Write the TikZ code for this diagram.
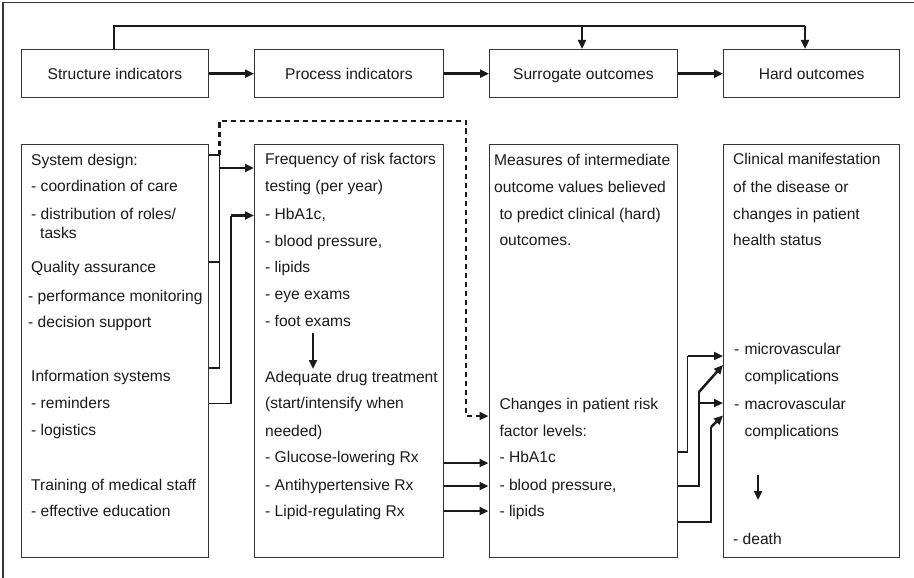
\documentclass[tikz,border=0pt]{standalone}
\usepackage{fontspec}
\setmainfont{Liberation Sans}
\usetikzlibrary{arrows.meta}
\definecolor{ink}{HTML}{1A1A1A}
\definecolor{edge}{HTML}{353535}
\tikzset{
  box/.style={draw=edge, line width=1.3pt, anchor=north west, inner sep=0pt, text=ink,
    font=\fontsize{15.6}{18}\selectfont, text height=11.2pt, text depth=0pt},
  txt/.style={anchor=base west, inner sep=0pt, text=ink, font=\fontsize{15.6}{18}\selectfont},
  thinline/.style={draw=ink, line width=1.25pt},
  arr/.style={draw=ink, line width=2.5pt, -{Triangle[length=9pt,width=8pt]}},
  darr/.style={draw=ink, line width=2.5pt, dash pattern=on 5.5pt off 3.5pt, -{Triangle[length=9pt,width=8pt]}},
  mline/.style={draw=ink, line width=2.5pt},
}
\begin{document}
\begin{tikzpicture}[x=1pt,y=-1pt]
\useasboundingbox (0,0) rectangle (914,578);
% outer frame (left and top)
\draw[draw=edge, line width=1.3pt] (3,578) -- (3,2.5) -- (914,2.5);

% top row
\node[box, minimum width=187.5pt, minimum height=48pt] (s) at (20.5,49) {Structure indicators};
\node[box, minimum width=188.5pt, minimum height=48pt] (p) at (254,49) {Process indicators};
\node[box, minimum width=187.5pt, minimum height=48pt] (su) at (489,49) {Surrogate outcomes};
\node[box, minimum width=176pt, minimum height=48pt] (h) at (723,49) {Hard outcomes};

\draw[arr] (s.east) -- (p.west);
\draw[arr] (p.east) -- (su.west);
\draw[arr] (su.east) -- (h.west);

\coordinate (tl) at (114,26);
\coordinate (tm) at (582,26);
\coordinate (tr) at (805,26);
\draw[mline] (s.north -| tl) -- (tl) -- (tm);
\draw[arr] (tm) -- (su.north -| tm);
\draw[draw=ink, line width=1.7pt] (tm) -- (tr);
\draw[arr] (tr) -- (h.north -| tr);

% bottom row boxes
\node[box, minimum width=187.5pt, minimum height=413pt] (b1) at (20.5,144) {};
\node[box, minimum width=188.5pt, minimum height=413pt] (b2) at (254,144) {};
\node[box, minimum width=188pt, minimum height=413pt] (b3) at (488.5,144) {};
\node[box, minimum width=176pt, minimum height=413pt] (b4) at (723,144) {};

% left box text
\node[txt] (l1) at (31,165.5) {System design:};
\node[txt] (l2) at (31,191.7) {- coordination of care};
\node[txt] (l3) at (31,219.5) {- distribution of roles/};
\node[txt] (l4) at (40,238.3) {tasks};
\node[txt] (l5) at (31,272.7) {Quality assurance};
\node[txt] (l6) at (28,301.7) {- performance monitoring};
\node[txt] (l7) at (28,327.3) {- decision support};
\node[txt] (l8) at (31,381.7) {Information systems};
\node[txt] (l9) at (31,408.3) {- reminders};
\node[txt] (l10) at (31,435.7) {- logistics};
\node[txt] (l11) at (31,490) {Training of medical staff};
\node[txt] (l12) at (31,516.7) {- effective education};

% process box text
\node[txt] (p1) at (265,164.3) {Frequency of risk factors};
\node[txt] (p2) at (265,191) {testing (per year)};
\node[txt] (p3) at (265,219.3) {- HbA1c,};
\node[txt] (p4) at (265,246) {- blood pressure,};
\node[txt] (p5) at (265,272.7) {- lipids};
\node[txt] (p6) at (265,299.3) {- eye exams};
\node[txt] (p7) at (265,326) {- foot exams};
\node[txt] (p8) at (265,382.7) {Adequate drug treatment};
\node[txt] (p9) at (265,408.3) {(start/intensify when};
\node[txt] (p10) at (265,436) {needed)};
\node[txt] (p11) at (265,462.7) {- Glucose-lowering Rx};
\node[txt] (p12) at (265,490) {- Antihypertensive Rx};
\node[txt] (p13) at (265,516.7) {- Lipid-regulating Rx};

% surrogate box text
\node[txt] (s1) at (494,165) {Measures of intermediate};
\node[txt] (s2) at (494,192.7) {outcome values believed};
\node[txt] (s3) at (499.3,219) {to predict clinical (hard)};
\node[txt] (s4) at (499.3,245.7) {outcomes.};
\node[txt] (s5) at (499.3,409) {Changes in patient risk};
\node[txt] (s6) at (499.3,436) {factor levels:};
\node[txt] (s7) at (499.3,462.7) {- HbA1c};
\node[txt] (s8) at (499.3,490) {- blood pressure,};
\node[txt] (s9) at (499.3,516.7) {- lipids};

% hard box text
\node[txt] (h1) at (733,164.3) {Clinical manifestation};
\node[txt] (h2) at (733,192.3) {of the disease or};
\node[txt] (h3) at (733,219) {changes in patient};
\node[txt] (h4) at (733,245.7) {health status};
\node[txt] (h5) at (734,354.3) {-};
\node[txt] (h6) at (744.3,354.3) {microvascular};
\node[txt] (h7) at (744.3,381.7) {complications};
\node[txt] (h8) at (734,409) {-};
\node[txt] (h9) at (744.3,409) {macrovascular};
\node[txt] (h10) at (744.3,436) {complications};
\node[txt] (h11) at (733,544) {- death};

% structure -> process bus
\coordinate (bx) at (219.5,155);
\coordinate (bb) at (219.5,368);
\draw[thinline] (b1.east |- bx) -- (bx) -- (bb) -- (b1.east |- bb);
\draw[thinline] (b1.east |- 0,262) -- (219.5,262);
\draw[arr] (219.5,168) -- (b2.west |- 0,168);
\coordinate (c1) at (231,403.5);
\coordinate (c2) at (231,215.5);
\draw[thinline] (b1.east |- c1) -- (c1) -- (c2);
\draw[arr] (c2) -- (b2.west |- c2);

% dashed path
\coordinate (d1) at (219.5,121);
\coordinate (d2) at (466,121);
\coordinate (d3) at (466,416);
\draw[darr] (bx) -- (d1) -- (d2) -- (d3) -- (b3.west |- d3);

% arrow within process box
\coordinate (pa) at (313,333);
\coordinate (pb) at (313,369);
\draw[arr] (pa) -- (pb);

% process -> surrogate
\draw[arr] (b2.east |- 0,463) -- (b3.west |- 0,463);
\draw[arr] (b2.east |- 0,486) -- (b3.west |- 0,486);
\draw[arr] (b2.east |- 0,511) -- (b3.west |- 0,511);

% surrogate -> hard
\coordinate (e1) at (687.5,452);
\coordinate (e1t) at (687.5,356);
\draw[thinline] (b3.east |- e1) -- (e1) -- (e1t);
\draw[arr] (e1t) -- (b4.west |- e1t);
\coordinate (e2) at (699,486);
\coordinate (e2t) at (699,392);
\coordinate (e2m) at (699,403);
\draw[thinline] (b3.east |- e2) -- (e2) -- (e2t);
\draw[arr] (e2t) -- (b4.west |- 0,365);
\draw[arr] (e2m) -- (b4.west |- e2m);
\coordinate (e3) at (711,522);
\coordinate (e3t) at (711,427);
\draw[thinline] (b3.east |- e3) -- (e3) -- (e3t);
\draw[arr] (e3t) -- (b4.west |- 0,415.5);

% arrow within hard box
\coordinate (ha) at (758,475);
\coordinate (hb) at (758,500);
\draw[arr] (ha) -- (hb);
\end{tikzpicture}
\end{document}
